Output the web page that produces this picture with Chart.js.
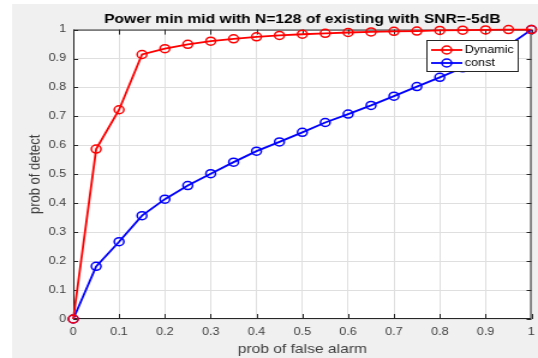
<!DOCTYPE html>
<html>
<head>
<meta charset="utf-8">
<script src="https://cdn.jsdelivr.net/npm/chart.js@4"></script>
<style>
  html, body { margin: 0; padding: 0; background: #ffffff; overflow: hidden; }
  /* la figura original esta estirada en horizontal */
  #wrap { width: 448px; height: 358px; transform: scaleX(1.2009); transform-origin: 0 0; }
</style>
</head>
<body>
<div id="wrap"><canvas id="rocChart" width="448" height="358"></canvas></div>
<script>
// datos
const pfa = [0, 0.05, 0.1, 0.15, 0.2, 0.25, 0.3, 0.35, 0.4, 0.45, 0.5, 0.55, 0.6, 0.65, 0.7, 0.75, 0.8, 0.85, 0.9, 0.95, 1];
const dynamicPd = [0, 0.587, 0.723, 0.914, 0.934, 0.949, 0.960, 0.968, 0.975, 0.980, 0.984, 0.987, 0.990, 0.992, 0.994, 0.995, 0.997, 0.998, 0.999, 1.0, 1.0];
const constPd = [0, 0.182, 0.267, 0.357, 0.414, 0.461, 0.502, 0.542, 0.580, 0.612, 0.645, 0.679, 0.708, 0.738, 0.770, 0.803, 0.835, 0.868, 0.902, 0.945, 1.0];
const seriesNames = ["Dynamic", "const"];
const axisTicks = [0, 0.1, 0.2, 0.3, 0.4, 0.5, 0.6, 0.7, 0.8, 0.9, 1];

const FONT = "'Liberation Sans', Arial, sans-serif";
const AXIS_COLOR = "#262626";

function toPoints(xs, ys) {
    return xs.map((x, i) => ({ x: x, y: ys[i] }));
}

// fondo gris de la figura y area blanca de los ejes
const figureBackground = {
    id: "figureBackground",
    beforeDraw(chart) {
        const ctx = chart.ctx;
        const a = chart.chartArea;
        ctx.save();
        ctx.fillStyle = "#f0f0f0";
        ctx.fillRect(10, 4, chart.width - 10, chart.height - 4);
        ctx.fillStyle = "#ffffff";
        ctx.fillRect(a.left, a.top, a.right - a.left, a.bottom - a.top);
        ctx.restore();
    }
};

// caja de ejes con marcas hacia dentro (estilo MATLAB)
const axesBox = {
    id: "axesBox",
    beforeDatasetsDraw(chart) {
        const ctx = chart.ctx;
        const a = chart.chartArea;
        const xs = chart.scales.x, ys = chart.scales.y;
        ctx.save();
        ctx.strokeStyle = AXIS_COLOR;
        ctx.lineWidth = 1;
        ctx.strokeRect(a.left + 0.5, a.top + 0.5, a.right - a.left - 1, a.bottom - a.top - 1);
        ctx.beginPath();
        axisTicks.forEach(v => {
            const px = Math.round(xs.getPixelForValue(v)) + 0.5;
            ctx.moveTo(px, a.bottom); ctx.lineTo(px, a.bottom - 5);
            ctx.moveTo(px, a.top); ctx.lineTo(px, a.top + 5);
            const py = Math.round(ys.getPixelForValue(v)) + 0.5;
            ctx.moveTo(a.left, py); ctx.lineTo(a.left + 4, py);
            ctx.moveTo(a.right, py); ctx.lineTo(a.right - 4, py);
        });
        ctx.stroke();
        ctx.restore();
    }
};

// leyenda dentro del area de ejes con borde
const boxedLegend = {
    id: "boxedLegend",
    afterDatasetsDraw(chart) {
        const ctx = chart.ctx;
        const bx = 355, by = 40, bw = 77, bh = 32;
        ctx.save();
        ctx.fillStyle = "#ffffff";
        ctx.fillRect(bx, by, bw, bh);
        ctx.strokeStyle = AXIS_COLOR;
        ctx.lineWidth = 1;
        ctx.strokeRect(bx + 0.5, by + 0.5, bw - 1, bh - 1);
        chart.data.datasets.forEach((ds, i) => {
            const y = by + 10 + i * 13;
            ctx.strokeStyle = ds.borderColor;
            ctx.lineWidth = 1.8;
            ctx.beginPath();
            ctx.moveTo(bx + 4, y); ctx.lineTo(bx + 30, y);
            ctx.stroke();
            ctx.lineWidth = 1.5;
            ctx.beginPath();
            ctx.arc(bx + 17, y, 4, 0, Math.PI * 2);
            ctx.stroke();
            ctx.fillStyle = "#000000";
            ctx.font = "10.5px " + FONT;
            ctx.textAlign = "left";
            ctx.textBaseline = "middle";
            ctx.fillText(ds.label, bx + 32, y);
        });
        ctx.restore();
    }
};

function makeDataset(label, values, color) {
    return {
        label: label,
        data: toPoints(pfa, values),
        borderColor: color,
        backgroundColor: color,
        borderWidth: 1.8,
        pointRadius: 4,
        pointHoverRadius: 4,
        pointBorderWidth: 1.5,
        pointBackgroundColor: "rgba(0,0,0,0)",
        pointBorderColor: color,
        tension: 0,
        clip: false
    };
}

function setupChart() {
    const ctx = document.getElementById("rocChart").getContext("2d");
    return new Chart(ctx, {
        type: "line",
        data: {
            datasets: [
                makeDataset(seriesNames[0], dynamicPd, "#ff0000"),
                makeDataset(seriesNames[1], constPd, "#0000ff")
            ]
        },
        options: {
            responsive: false,
            animation: false,
            events: [],
            layout: { padding: { left: 10, top: 0, right: 4, bottom: 0 } },
            plugins: {
                legend: { display: false },
                tooltip: { enabled: false },
                title: {
                    display: true,
                    fullSize: false,
                    text: "Power min mid with N=128 of existing with SNR=-5dB",
                    color: "#000000",
                    font: { family: FONT, size: 13, weight: "bold" },
                    padding: { top: 12, bottom: 2 }
                }
            },
            scales: {
                x: {
                    type: "linear",
                    min: 0, max: 1,
                    afterBuildTicks: s => { s.ticks = axisTicks.map(v => ({ value: v })); },
                    afterFit: s => { s.height = 39; s.paddingLeft = 0; s.paddingRight = 0; },
                    grid: { color: "#dfdfdf", tickLength: 0, drawTicks: false },
                    border: { display: false },
                    ticks: {
                        color: "#404040",
                        font: { family: FONT, size: 10.5 },
                        padding: 7,
                        maxRotation: 0,
                        callback: v => String(Math.round(v * 10) / 10)
                    },
                    title: {
                        display: true,
                        text: "prob of false alarm",
                        color: "#404040",
                        font: { family: FONT, size: 13 },
                        padding: { top: 0, bottom: 1 }
                    }
                },
                y: {
                    type: "linear",
                    min: 0, max: 1,
                    afterBuildTicks: s => { s.ticks = axisTicks.map(v => ({ value: v })); },
                    afterFit: s => { s.width = 51; },
                    grid: { color: "#dfdfdf", tickLength: 0, drawTicks: false },
                    border: { display: false },
                    ticks: {
                        color: "#404040",
                        font: { family: FONT, size: 10.5 },
                        padding: 6,
                        callback: v => String(Math.round(v * 10) / 10)
                    },
                    title: {
                        display: true,
                        text: "prob of detect",
                        color: "#404040",
                        font: { family: FONT, size: 13 },
                        padding: { top: 12, bottom: 0 }
                    }
                }
            }
        },
        plugins: [figureBackground, axesBox, boxedLegend]
    });
}

document.addEventListener("DOMContentLoaded", setupChart);
</script>
</body>
</html>
